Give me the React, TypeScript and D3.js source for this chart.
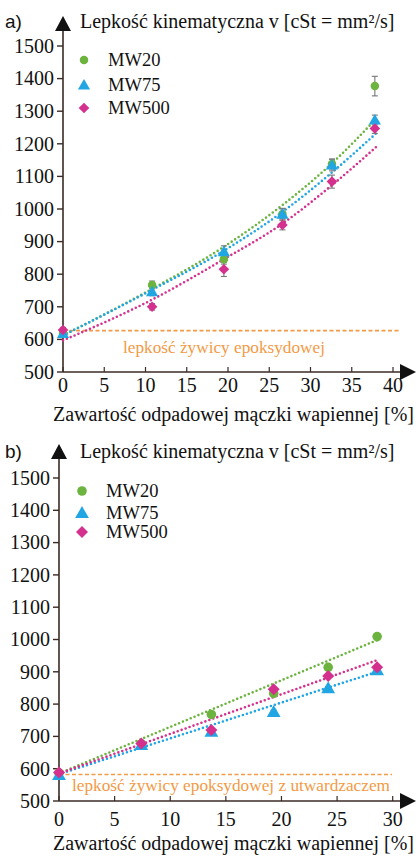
import React from "react";
import * as d3 from "d3";

// ---------- data ----------
const seriesNames = ["MW20", "MW75", "MW500"];
const seriesColors = ["#6cb43f", "#21a6e3", "#d4318f"];

// panel a)
const aX = [0, 10.8, 19.5, 26.6, 32.6, 37.8];
const aMW20 = [620, 767, 846, 985, 1138, 1377];
const aMW75 = [618, 746, 869, 984, 1135, 1273];
const aMW500 = [629, 700, 815, 951, 1084, 1247];
const aErr20 = [8, 12, 15, 15, 15, 30];
const aErr75 = [8, 12, 18, 18, 18, 15];
const aErr500 = [8, 10, 22, 15, 20, 15];
const aTrendX = [0, 10.8, 19.5, 26.6, 32.6, 38];
const aTrend20 = [612, 755, 884, 1012, 1140, 1278];
const aTrend75 = [612, 752, 872, 991, 1112, 1233];
const aTrend500 = [597, 722, 846, 955, 1073, 1191];
const aBaseline = 627;
const aBaseLabel = "lepkość żywicy epoksydowej";
const aXTicks = [0, 5, 10, 15, 20, 25, 30, 35, 40];

// panel b)
const bX = [0, 7.4, 13.7, 19.3, 24.2, 28.6];
const bMW20 = [587, 677, 768, 833, 914, 1009];
const bMW75 = [581, 674, 715, 776, 849, 905];
const bMW500 = [588, 678, 720, 846, 887, 914];
const bErr = [5, 5, 5, 5, 5, 5];
const bTrendX = [0, 28.6];
const bTrend20 = [585, 998];
const bTrend75 = [583, 900];
const bTrend500 = [585, 936];
const bBaseline = 582;
const bBaseLabel = "lepkość żywicy epoksydowej z utwardzaczem";
const bXTicks = [0, 5, 10, 15, 20, 25, 30];

const yTicks = [500, 600, 700, 800, 900, 1000, 1100, 1200, 1300, 1400, 1500];
const yTitle = "Lepkość kinematyczna v [cSt = mm²/s]";
const xTitle = "Zawartość odpadowej mączki wapiennej [%]";

const SERIF = "'Liberation Serif', 'Times New Roman', serif";
const SANS = "'Liberation Sans', Arial, sans-serif";
const AXIS = "#3a2b25";
const ORANGE = "#f29a45";
const FS = 20;

function Marker({ kind, x, y, color, s }: { kind: number; x: number; y: number; color: string; s: number }) {
  if (kind === 0) return <circle cx={x} cy={y} r={s * 0.8} fill={color} />;
  if (kind === 1)
    return (
      <path
        d={`M${x},${y - s * 1.15} L${x + s * 1.15},${y + s * 0.85} L${x - s * 1.15},${y + s * 0.85} Z`}
        fill={color}
      />
    );
  return (
    <path
      d={`M${x},${y - s} L${x + s},${y} L${x},${y + s} L${x - s},${y} Z`}
      fill={color}
    />
  );
}

type PanelProps = {
  label: string;
  xDomainMax: number;
  xRange: [number, number];
  yRange: [number, number];
  xs: number[];
  series: number[][];
  errs: number[][];
  trendX: number[];
  trends: number[][];
  baseline: number;
  baseLabel: string;
  baseLabelX: [number, number];
  xTicks: number[];
  titleY: number;
  arrowTop: number;
  legendX: number;
  legendY: number[];
  tickLabelY: number;
  xTitleY: number;
  baseLabelY: number;
  baseEnd: number;
  mSize: number;
};

function Panel(p: PanelProps) {
  const x = d3.scaleLinear().domain([0, p.xDomainMax]).range(p.xRange);
  const y = d3.scaleLinear().domain([500, 1500]).range(p.yRange);
  const x0 = p.xRange[0];
  const y0 = p.yRange[0];
  const line = d3
    .line<[number, number]>()
    .x((d) => x(d[0]))
    .y((d) => y(d[1]))
    .curve(d3.curveMonotoneX);
  return (
    <g>
      <text x={5} y={p.titleY} fontFamily={SANS} fontSize={19} fill="#111">
        {p.label}
      </text>
      <text x={80} y={p.titleY} fontFamily={SERIF} fontSize={FS} fill="#111">
        {yTitle}
      </text>
      {/* y axis */}
      <line x1={x0} x2={x0} y1={y0} y2={p.arrowTop + 12} stroke={AXIS} strokeWidth={1.6} />
      <path
        d={`M${x0},${p.arrowTop} L${x0 + 8},${p.arrowTop + 15} L${x0 - 8},${p.arrowTop + 15} Z`}
        fill="#111"
      />
      {yTicks.map((t) => (
        <g key={t}>
          <line x1={x0 - 6} x2={x0} y1={y(t)} y2={y(t)} stroke={AXIS} strokeWidth={1.4} />
          <text
            x={x0 - 9}
            y={y(t)}
            dy="0.34em"
            textAnchor="end"
            fontFamily={SERIF}
            fontSize={FS}
            fill="#111"
          >
            {t}
          </text>
        </g>
      ))}
      {/* x axis */}
      <line x1={x0} x2={404} y1={y0} y2={y0} stroke={AXIS} strokeWidth={1.6} />
      <path d={`M416,${y0} L400,${y0 - 8} L400,${y0 + 8} Z`} fill="#111" />
      {p.xTicks.map((t) => (
        <g key={t}>
          <line x1={x(t)} x2={x(t)} y1={y0} y2={y0 - 5} stroke={AXIS} strokeWidth={1.2} />
          <text
            x={x(t)}
            y={p.tickLabelY}
            textAnchor="middle"
            fontFamily={SERIF}
            fontSize={FS}
            fill="#111"
          >
            {t}
          </text>
        </g>
      ))}
      <text x={53} y={p.xTitleY} fontFamily={SERIF} fontSize={FS} fill="#111">
        {xTitle}
      </text>
      {/* baseline */}
      <line
        x1={x0}
        x2={p.baseEnd}
        y1={y(p.baseline)}
        y2={y(p.baseline)}
        stroke={ORANGE}
        strokeWidth={1.6}
        strokeDasharray="4 2.5"
      />
      <text
        x={p.baseLabelX[0]}
        y={p.baseLabelY}
        textLength={p.baseLabelX[1] - p.baseLabelX[0]}
        lengthAdjust="spacingAndGlyphs"
        fontFamily={SERIF}
        fontSize={17}
        fill={ORANGE}
      >
        {p.baseLabel}
      </text>
      {/* trend lines */}
      {p.trends.map((tr, i) => (
        <path
          key={i}
          d={line(p.trendX.map((xx, j) => [xx, tr[j]] as [number, number])) || ""}
          fill="none"
          stroke={seriesColors[i]}
          strokeWidth={2.6}
          strokeDasharray="0 4.2"
          strokeLinecap="round"
        />
      ))}
      {/* error bars */}
      {p.series.map((s, i) =>
        s.map((v, j) => {
          const e = p.errs[i][j];
          const cx = x(p.xs[j]);
          return (
            <g key={`e${i}-${j}`} stroke="#777" strokeWidth={1.1}>
              <line x1={cx} x2={cx} y1={y(v - e)} y2={y(v + e)} />
              <line x1={cx - 3} x2={cx + 3} y1={y(v - e)} y2={y(v - e)} />
              <line x1={cx - 3} x2={cx + 3} y1={y(v + e)} y2={y(v + e)} />
            </g>
          );
        })
      )}
      {/* markers */}
      {p.series.map((s, i) =>
        s.map((v, j) => (
          <Marker
            key={`m${i}-${j}`}
            kind={i}
            x={x(p.xs[j])}
            y={y(v)}
            color={seriesColors[i]}
            s={p.mSize}
          />
        ))
      )}
      {/* legend */}
      {seriesNames.map((n, i) => (
        <g key={n}>
          <Marker kind={i} x={p.legendX} y={p.legendY[i]} color={seriesColors[i]} s={p.mSize} />
          <text
            x={p.legendX + 24}
            y={p.legendY[i]}
            dy="0.35em"
            fontFamily={SERIF}
            fontSize={18.5}
            fill="#111"
          >
            {n}
          </text>
        </g>
      ))}
    </g>
  );
}

export default function App() {
  return (
    <svg
      width={416}
      height={857}
      style={{ position: "absolute", left: 0, top: 0, background: "#fff" }}
    >
      <rect width={416} height={857} fill="#fff" />
      <Panel
        label="a)"
        xDomainMax={40}
        xRange={[63, 393]}
        yRange={[372, 46]}
        xs={aX}
        series={[aMW20, aMW75, aMW500]}
        errs={[aErr20, aErr75, aErr500]}
        trendX={aTrendX}
        trends={[aTrend20, aTrend75, aTrend500]}
        baseline={aBaseline}
        baseLabel={aBaseLabel}
        baseLabelX={[123, 325]}
        xTicks={aXTicks}
        titleY={28}
        arrowTop={16}
        legendX={84}
        legendY={[60, 85, 108]}
        tickLabelY={392}
        xTitleY={421}
        baseLabelY={353}
        baseEnd={400}
        mSize={5.3}
      />
      <Panel
        label="b)"
        xDomainMax={30}
        xRange={[59, 392.7]}
        yRange={[801, 478]}
        xs={bX}
        series={[bMW20, bMW75, bMW500]}
        errs={[bErr, bErr, bErr]}
        trendX={bTrendX}
        trends={[bTrend20, bTrend75, bTrend500]}
        baseline={bBaseline}
        baseLabel={bBaseLabel}
        baseLabelX={[72, 390]}
        xTicks={bXTicks}
        titleY={458}
        arrowTop={444}
        legendX={82}
        legendY={[491, 513, 532]}
        tickLabelY={826}
        xTitleY={850}
        baseLabelY={791}
        baseEnd={392}
        mSize={6}
      />
    </svg>
  );
}
